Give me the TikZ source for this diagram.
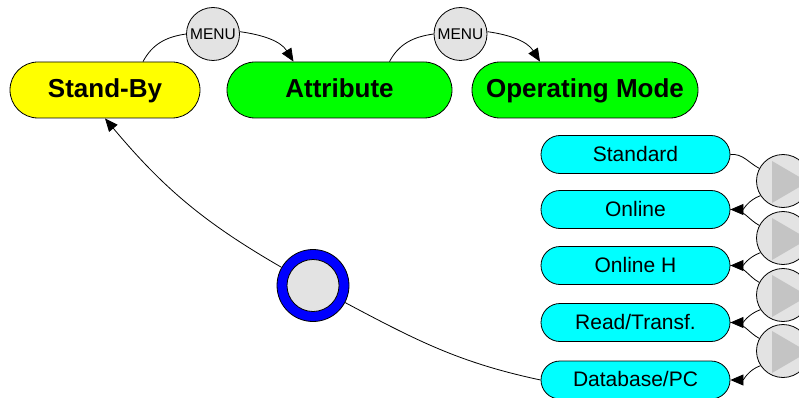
\documentclass[tikz,border=0pt]{standalone}
\usepackage{fontspec}
\setmainfont{Liberation Sans}
\usetikzlibrary{arrows.meta}
\definecolor{keygray}{RGB}{227,227,227}
\definecolor{playgray}{RGB}{196,196,196}
\definecolor{sbyellow}{RGB}{255,255,0}
\definecolor{stgreen}{RGB}{0,255,0}
\definecolor{modecyan}{RGB}{0,255,255}
\definecolor{ringblue}{RGB}{0,0,255}
\tikzset{
  link/.style={line width=0.8pt},
  tip/.style={-{Triangle[length=13pt,width=11pt]}},
  state/.style={draw, line width=0.8pt, rounded corners=28pt, minimum height=56pt,
    inner sep=0pt, text height=18.7pt, text depth=2.7pt,
    font=\fontsize{26}{30}\selectfont\bfseries},
  mode/.style={draw, line width=0.8pt, fill=modecyan, rounded corners=19pt,
    minimum width=189pt, minimum height=38pt, inner sep=0pt,
    text height=15pt, text depth=2pt,
    font=\fontsize{21}{24}\selectfont},
  menukey/.style={circle, draw, line width=0.8pt, fill=keygray, minimum size=53pt,
    inner sep=0pt, font=\fontsize{15.5}{17}\selectfont},
  playkey/.style={circle, draw, line width=0.8pt, fill=keygray, minimum size=53pt, inner sep=0pt},
}
\begin{document}
\begin{tikzpicture}[x=1pt,y=1pt]
\useasboundingbox (0,0) rectangle (799,-398);

% main states
\node[state, fill=sbyellow, minimum width=190pt] (sb) at (105,-90) {Stand-By};
\node[state, fill=stgreen, minimum width=225pt] (attr) at (339.5,-90) {Attribute};
\node[state, fill=stgreen, minimum width=226pt] (opm) at (585,-90) {Operating Mode};

% menu keys between the states
\node[menukey] (m1) at (213,-34) {MENU};
\node[menukey] (m2) at (460.5,-34) {MENU};

\draw[link] ([xshift=38pt]sb.north) to[out=62,in=188] (m1.180);
\draw[link,tip] (m1.5) to[out=-8,in=122] ([xshift=-46pt]attr.north);
\draw[link] ([xshift=50pt]attr.north) to[out=62,in=188] (m2.180);
\draw[link,tip] (m2.5) to[out=-8,in=122] ([xshift=-45pt]opm.north);

% operating modes
\node[mode] (std) at (635.5,-154.5) {Standard};
\node[mode] (onl) at (635.5,-209.5) {Online};
\node[mode] (onh) at (635.5,-265.5) {Online H};
\node[mode] (rdt) at (635.5,-322.5) {Read/Transf.};
\node[mode] (dbp) at (635.5,-380) {Database/PC};

% play keys stepping through the modes
\foreach \n/\y in {p1/-181, p2/-238, p3/-295, p4/-351}{
  \node[playkey] (\n) at (783,\y) {};
  \fill[playgray] ([xshift=-11pt,yshift=20pt]\n.center) -- ([xshift=25pt,yshift=-1pt]\n.center)
     -- ([xshift=-11pt,yshift=-22pt]\n.center) -- cycle;
}

\foreach \a/\k/\b in {std/p1/onl, onl/p2/onh, onh/p3/rdt, rdt/p4/dbp}{
  \draw[link] (\a.east) to[out=5,in=152] (\k.152);
  \draw[link,tip] (\k.213) to[out=200,in=0] (\b.east);
}

% return key
\node[circle, draw, line width=0.8pt, fill=ringblue, minimum size=72pt, inner sep=0pt] (ret) at (313,-285.5) {};
\node[circle, draw, line width=0.8pt, fill=keygray, minimum size=52pt, inner sep=0pt] (reti) at (ret.center) {};

\draw[link] (dbp.west) to[out=168,in=-28] (ret.-28);
\draw[link,tip] (ret.150) to[out=150,in=-50] (sb.south);
\end{tikzpicture}
\end{document}
